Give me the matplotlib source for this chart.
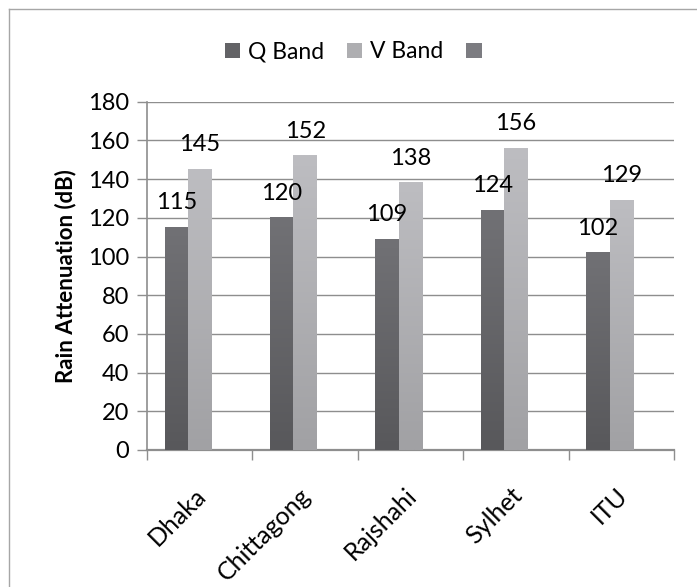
import matplotlib
matplotlib.use("Agg")
import matplotlib.pyplot as plt
import numpy as np
from matplotlib.colors import LinearSegmentedColormap
from matplotlib.patches import Patch
from matplotlib.lines import Line2D
from matplotlib.transforms import ScaledTranslation

categories = ["Dhaka", "Chittagong", "Rajshahi", "Sylhet", "ITU"]
q_band = [115, 120, 109, 124, 102]
v_band = [145, 152, 138, 156, 129]
series_labels = ["Q Band", "V Band", ""]
y_ticks = [0, 20, 40, 60, 80, 100, 120, 140, 160, 180]
y_label = "Rain Attenuation (dB)"

plt.rcParams['font.family'] = ['Lato', 'DejaVu Sans']

fig = plt.figure(figsize=(6.97, 5.87), dpi=100)
ax = fig.add_axes([0.211, 0.2334, 0.756, 0.5933])

x = np.arange(len(categories))
w = 1 / 4.5
q_cmap = LinearSegmentedColormap.from_list("q", ["#58585b", "#717175"])
v_cmap = LinearSegmentedColormap.from_list("v", ["#a1a1a4", "#bdbdc1"])

bars_q = ax.bar(x - w, q_band, w, facecolor="none", edgecolor="none", zorder=3)
bars_v = ax.bar(x, v_band, w, facecolor="none", edgecolor="none", zorder=3)

grad = np.linspace(0, 1, 256).reshape(-1, 1)
for bars, cmap in ((bars_q, q_cmap), (bars_v, v_cmap)):
    for b in bars:
        x0, wid, h = b.get_x(), b.get_width(), b.get_height()
        ax.imshow(grad, extent=[x0, x0 + wid, 0, h], origin="lower",
                  aspect="auto", cmap=cmap, zorder=3, interpolation="bilinear")

for bars, vals in ((bars_q, q_band), (bars_v, v_band)):
    for b, v in zip(bars, vals):
        ax.annotate(str(v), (b.get_x() + b.get_width() / 2, v),
                    xytext=(0, 18), textcoords="offset pixels",
                    ha="center", va="baseline", fontsize=17, color="black", zorder=4)

ax.set_xlim(-0.5, len(categories) - 0.5)
ax.set_ylim(0, 180)
ax.set_yticks(y_ticks)
ax.set_yticklabels([str(t) for t in y_ticks], fontsize=17)
ax.yaxis.grid(True, color="#8e8e8e", linewidth=1.0)
ax.set_axisbelow(True)

ax.set_xticks(np.arange(len(categories) + 1) - 0.5)
ax.set_xticklabels([])
ax.set_xticks(x, minor=True)
ax.set_xticklabels(categories, minor=True, rotation=45, ha="right",
                   rotation_mode="anchor", fontsize=18)
ax.tick_params(axis="x", which="minor", length=0, pad=24)
ax.tick_params(axis="x", which="major", length=7, width=1, color="#8e8e8e", direction="out")
ax.tick_params(axis="y", length=7, width=1, color="#8e8e8e", direction="out", pad=6)
shift = ScaledTranslation(-6 / 100, 0, fig.dpi_scale_trans)
for lab in ax.get_xticklabels(minor=True):
    lab.set_transform(lab.get_transform() + shift)

for s in ("top", "right"):
    ax.spines[s].set_visible(False)
ax.spines["left"].set_color("#8e8e8e")
ax.spines["bottom"].set_color("#8e8e8e")
ax.spines["left"].set_linewidth(1.2)
ax.spines["bottom"].set_linewidth(1.6)

ax.set_ylabel(y_label, fontsize=16, fontweight="bold", labelpad=8)

handles = [Patch(facecolor="#636366"), Patch(facecolor="#aeaeb1"), Patch(facecolor="#7c7c81")]
fig.legend(handles, series_labels, loc="center", bbox_to_anchor=(0.512, 1 - 52 / 587),
           ncol=3, frameon=False, fontsize=16.5, handlelength=0.68, handleheight=0.68,
           handletextpad=0.32, columnspacing=1.0)

# outer border (only top and left edges visible)
fig.add_artist(Line2D([8.5 / 697, 8.5 / 697], [0, 1 - 8.5 / 587], color="#a6a6a6", lw=1.0,
                      transform=fig.transFigure))
fig.add_artist(Line2D([8.5 / 697, 1], [1 - 8.5 / 587, 1 - 8.5 / 587], color="#a6a6a6", lw=1.0,
                      transform=fig.transFigure))

fig.savefig("out.png", dpi=100)
